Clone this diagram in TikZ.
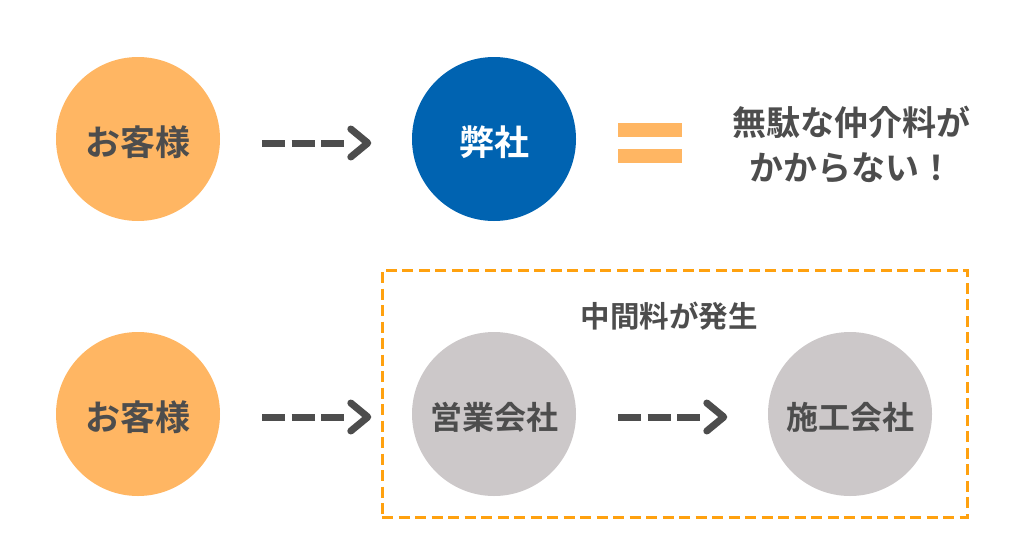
\documentclass[tikz,border=0pt]{standalone}
\usepackage{fontspec}
\newfontfamily\jp{Noto Sans CJK JP}[BoldFont={* Bold}]
\definecolor{corange}{HTML}{FFB663}
\definecolor{cblue}{HTML}{0063B1}
\definecolor{cgray}{HTML}{CCC8C9}
\definecolor{ctext}{HTML}{4D4D4D}
\definecolor{cbox}{HTML}{FFA10F}
\newcommand\dn[1]{\raisebox{-3pt}[\height][\depth]{#1}}
\begin{document}
\begin{tikzpicture}[x=1pt,y=-1pt,
  circ/.style={circle,minimum size=164pt,inner sep=0pt,text=ctext,
    font=\jp\bfseries\fontsize{32}{36}\selectfont},
  bigtext/.style={font=\jp\bfseries\fontsize{35}{40}\selectfont},
  orangec/.style={circ,fill=corange,bigtext},
  bluec/.style={circ,fill=cblue,text=white,bigtext},
  grayc/.style={circ,fill=cgray},
  dashline/.style={draw=ctext,line width=7pt,dash pattern=on 23pt off 6.5pt},
  chev/.style={draw=ctext,line width=7pt,line cap=round,line join=round},
  lbl/.style={text=ctext,font=\jp\bfseries\fontsize{34}{45}\selectfont,align=center},
  eqbar/.style={fill=corange,draw=none}]
\useasboundingbox (0,0) rectangle (1024,552);
% circles
\node[orangec] (c1) at (138,139) {\dn{お客様}};
\node[bluec] (c2) at (494,139) {\dn{弊社}};
\node[orangec] (c3) at (138,414) {\dn{お客様}};
\node[grayc] (c4) at (494,414) {\dn{営業会社}};
\node[grayc] (c5) at (850,414) {\dn{施工会社}};
% dashed box
\node[draw=cbox,line width=3pt,dash pattern=on 11pt off 5.5pt,minimum width=585pt,minimum height=247pt,inner sep=0pt] (box) at (674.5,393.5) {};
\node[text=ctext,font=\jp\bfseries\fontsize{29.5}{32}\selectfont] (mid) at (669,316) {中間料が発生};
% equal sign
\fill[eqbar] (618,123) rectangle (682,137);
\fill[eqbar] (618,149) rectangle (682,163);
% right text
\node[lbl] (note) at (851,145) {無駄な仲介料が\\かからない！};
% arrows
\foreach \a/\b/\y in {c1/c2/143, c3/c4/417, c4/c5/417}{
  \coordinate (s) at ([xshift=42pt]\a.east |- 0,\y);
  \coordinate (e) at ([xshift=-44pt]\b.west |- 0,\y);
  \draw[dashline] (s) -- ([xshift=-23pt]e);
  \draw[chev] ([xshift=-17pt,yshift=14pt]e) -- (e) -- ([xshift=-17pt,yshift=-14pt]e);
}
\end{tikzpicture}
\end{document}
